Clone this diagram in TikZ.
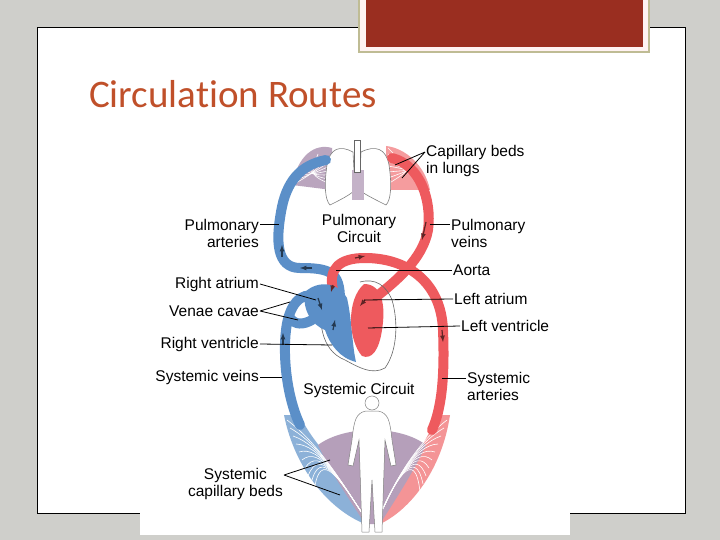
\documentclass[tikz,border=0pt]{standalone}
\usepackage{fontspec}
\setmainfont{Liberation Sans}
\newfontfamily\titlefont[Ligatures=NoCommon]{Carlito}
\definecolor{slidegray}{HTML}{CFCFCB}
\definecolor{boxred}{HTML}{9A2E20}
\definecolor{titlecol}{HTML}{C0502A}
\definecolor{veinblue}{HTML}{5B8FC8}
\definecolor{artred}{HTML}{EE5A5E}
\definecolor{mixpurple}{HTML}{9C7FA3}
\begin{document}
\begin{tikzpicture}[x=1pt, y=-1pt,
        % styles
        lbl/.style={font=\fontsize{15.5}{17}\selectfont, inner sep=1pt},
        pointer/.style={line width=0.8pt},
        vein/.style={line width=10pt, veinblue, line cap=round},
        artery/.style={line width=10pt, artred, line cap=round},
        flow/.style={line width=1.2pt, -latex}
    ]
    \useasboundingbox (0,0) rectangle (720,540);
    \fill[slidegray] (0,0) rectangle (720,540);
    \draw[fill=white, line width=0.6pt] (37,27) rectangle (685,513);
    % title box
    \draw[fill=white!95!red, draw=black!45!olive!40, line width=1.2pt] (359,-2) rectangle (649,52);
    \fill[boxred] (366,-2) rectangle (643,47);
    \node[anchor=base west, text=titlecol, inner sep=0, font=\titlefont\fontsize{39}{42}\selectfont] (title) at (89,108) {Circulation Routes};
    \fill[white] (140,130) rectangle (570,535);

    % lungs capillary beds
    \fill[mixpurple!70] (292,185) .. controls (298,155) and (315,143) .. (332,148) -- (332,190) -- cycle;
    \fill[artred!60] (386,146) .. controls (405,148) and (425,165) .. (430,190) -- (386,190) -- cycle;
    \foreach \i in {0,...,6}
        \draw[white, line width=0.6pt] (294+4*\i,184-5*\i) .. controls (310,175) .. (332,155+5*\i) (388,148+6*\i) .. controls (410,170) .. (428-5*\i,190-4*\i);
    % lungs
    \draw[black!50, fill=white, line width=0.6pt] (353,152) .. controls (340,145) and (330,148) .. (327,165) .. controls (324,185) and (325,200) .. (330,205) .. controls (340,200) and (350,195) .. (355,190) -- cycle;
    \draw[black!50, fill=white, line width=0.6pt] (361,152) .. controls (375,145) and (386,148) .. (389,165) .. controls (392,185) and (391,200) .. (386,205) .. controls (376,200) and (366,195) .. (359,190) -- cycle;
    \fill[mixpurple!60] (352,170) rectangle (364,200);
    \draw[black!60, fill=white] (354,140) rectangle (360,172);

    % systemic capillary beds
    \fill[veinblue!70] (284,415) .. controls (295,470) and (330,510) .. (365,524) -- (365,495) .. controls (340,470) and (310,440) .. (300,415) -- cycle;
    \fill[artred!65] (450,415) .. controls (442,470) and (410,510) .. (380,524) -- (380,495) .. controls (405,470) and (430,440) .. (436,415) -- cycle;
    \fill[mixpurple!75] (318,445) .. controls (345,425) and (400,425) .. (426,445) .. controls (412,475) and (395,500) .. (380,524) -- (365,524) .. controls (350,500) and (332,475) .. (318,445) -- cycle;
    \foreach \i in {0,...,9} {
        \draw[white, line width=0.6pt] (287+3*\i,420+8*\i) .. controls (320,445) and (340,480) .. (368,522);
        \draw[white, line width=0.6pt] (447-3*\i,420+8*\i) .. controls (415,445) and (395,480) .. (377,522);
    }

    % vessels
    \draw[vein] (300,425) .. controls (286,395) and (283,355) .. (286,330) .. controls (289,305) and (300,292) .. (316,296);
    \draw[vein] (290,318) .. controls (295,325) and (303,325) .. (312,320);
    \draw[vein] (340,300) .. controls (340,272) and (330,268) .. (300,268) .. controls (276,268) and (276,240) .. (281,212) .. controls (286,182) and (300,165) .. (326,160);
    \draw[artery] (392,158) .. controls (420,165) and (432,200) .. (428,230) .. controls (423,258) and (398,280) .. (372,300);
    \draw[artery] (333,290) .. controls (328,268) and (340,258) .. (365,258) .. controls (405,258) and (441,280) .. (443,330) .. controls (445,380) and (441,410) .. (432,430);

    % heart
    \draw[black!60, line width=0.6pt] (322,290) .. controls (318,320) and (320,350) .. (345,360) .. controls (360,368) and (372,375) .. (385,368) .. controls (398,350) and (398,320) .. (392,300) .. controls (386,285) and (375,278) .. (360,282);
    \fill[veinblue] (305,292) .. controls (318,280) and (338,282) .. (347,298) .. controls (352,320) and (352,345) .. (356,362) .. controls (340,358) and (330,345) .. (325,330) .. controls (312,325) and (302,310) .. (305,292) -- cycle;
    \fill[artred] (364,284) .. controls (382,284) and (386,305) .. (382,330) .. controls (379,350) and (372,360) .. (362,356) .. controls (348,340) and (346,300) .. (364,284) -- cycle;

    % flow arrows
    \draw[flow, veinblue!40!black] (282,257) -- (282,245);
    \draw[flow, veinblue!40!black] (312,268) -- (300,268);
    \draw[flow, artred!40!black] (426,222) -- (422,240);
    \draw[flow, artred!40!black] (355,258) -- (365,256);
    \draw[flow, artred!40!black] (442,330) -- (443,342);
    \draw[flow, veinblue!40!black] (283,345) -- (283,333);
    \draw[flow, veinblue!40!black] (318,298) -- (322,310);
    \draw[flow, veinblue!40!black] (333,330) -- (335,320);
    \draw[flow, artred!40!black] (333,285) -- (331,292);
    \draw[flow, artred!40!black] (365,300) -- (360,306);

    % human figure
    \draw[black!50, fill=white, line width=0.5pt] (372,403) circle (7);
    \draw[black!50, fill=white, line width=0.5pt] (366,411) -- (378,411) .. controls (388,413) and (390,420) .. (392,440) -- (396,465) -- (391,466) -- (385,440) -- (384,470) -- (382,532) -- (375,532) -- (372,480) -- (369,532) -- (362,532) -- (360,470) -- (359,440) -- (353,466) -- (348,465) -- (352,440) .. controls (354,420) and (356,413) .. (366,411) -- cycle;

    % labels
    \node[lbl, anchor=west, align=left] (caplung) at (425,161) {Capillary beds\\in lungs};
    \node[lbl, align=center] (pulmcirc) at (359,228) {Pulmonary\\Circuit};
    \node[lbl, anchor=east, align=right] (pulmart) at (260,233) {Pulmonary\\arteries};
    \node[lbl, anchor=west, align=left] (pulmvein) at (450,233) {Pulmonary\\veins};
    \node[lbl, anchor=west] (aorta) at (452,270) {Aorta};
    \node[lbl, anchor=east] (ratrium) at (260,284) {Right atrium};
    \node[lbl, anchor=east] (venae) at (260,311) {Venae cavae};
    \node[lbl, anchor=west] (latrium) at (453,299) {Left atrium};
    \node[lbl, anchor=west] (lventr) at (460,326) {Left ventricle};
    \node[lbl, anchor=east] (rventr) at (260,344) {Right ventricle};
    \node[lbl, anchor=east] (sysvein) at (260,377) {Systemic veins};
    \node[lbl] (syscirc) at (359,390) {Systemic Circuit};
    \node[lbl, anchor=west, align=left] (sysart) at (466,386) {Systemic\\arteries};
    \node[lbl, anchor=east, align=center] (syscap) at (284,484) {Systemic\\capillary beds};

    % pointer lines
    \coordinate (pl1) at (395,165); \coordinate (pl2) at (402,178);
    \draw[pointer] (caplung.west |- 0,152) -- (pl1) (caplung.west |- 0,152) -- (pl2);
    \draw[pointer] (pulmart.east |- 0,224) -- (279,224);
    \draw[pointer] (pulmvein.west |- 0,224) -- (430,224);
    \draw[pointer] (aorta.west) -- (336,270);
    \draw[pointer] (ratrium.east) -- (316,300);
    \draw[pointer] (venae.east) -- (290,302) (venae.east) -- (298,320);
    \draw[pointer] (latrium.west) -- (364,300);
    \draw[pointer] (lventr.west) -- (368,328);
    \draw[pointer] (rventr.east) -- (332,345);
    \draw[pointer] (sysvein.east) -- (282,377);
    \draw[pointer] (sysart.west |- 0,378) -- (442,378);
    \draw[pointer] (syscap.east |- 0,475) -- (330,460) (syscap.east |- 0,475) -- (340,495);
\end{tikzpicture}
\end{document}
